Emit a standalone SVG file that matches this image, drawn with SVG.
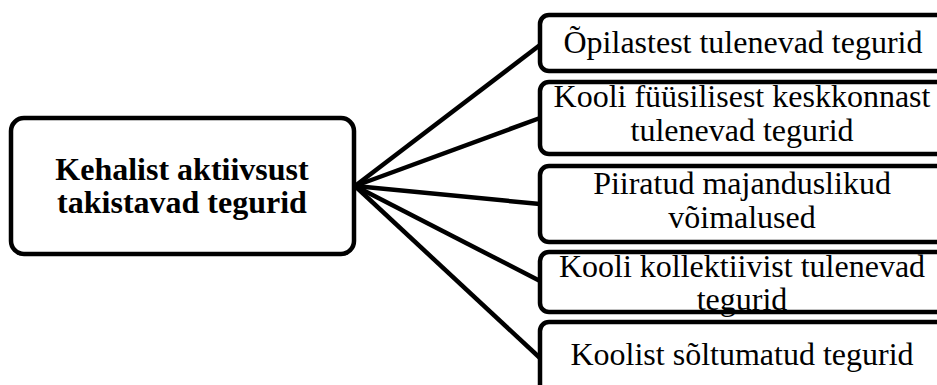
<svg xmlns="http://www.w3.org/2000/svg" width="937" height="385" viewBox="0 0 937 385">
<style>
.box{fill:#fff;stroke:#000;stroke-width:4.5}
.t{font-family:"Liberation Serif","Times New Roman",serif;font-size:32px;fill:#000;text-anchor:middle}
.b{font-weight:bold}
.c{stroke:#000;stroke-width:4.5;fill:none}
</style>
<rect width="937" height="385" fill="#fff"/>
<g id="connectors">
<line class="c" x1="355" y1="186" x2="540" y2="45"/>
<line class="c" x1="355" y1="186" x2="540" y2="118"/>
<line class="c" x1="355" y1="186" x2="540" y2="204"/>
<line class="c" x1="355" y1="186" x2="540" y2="281"/>
<line class="c" x1="355" y1="186" x2="540" y2="358"/>
</g>
<g id="main">
<rect class="box" x="11" y="118" width="343" height="136" rx="13"/>
<text class="t b" x="182" y="180">Kehalist aktiivsust</text>
<text class="t b" x="182" y="213">takistavad tegurid</text>
</g>
<g id="n1">
<rect class="box" x="540" y="15" width="406" height="56" rx="9"/>
<text class="t" x="743" y="53">Õpilastest tulenevad tegurid</text>
</g>
<g id="n2">
<rect class="box" x="540" y="82" width="406" height="72" rx="9"/>
<text class="t" x="742" y="107">Kooli füüsilisest keskkonnast</text>
<text class="t" x="742" y="141">tulenevad tegurid</text>
</g>
<g id="n3">
<rect class="box" x="540" y="166" width="406" height="76" rx="9"/>
<text class="t" x="742" y="194">Piiratud majanduslikud</text>
<text class="t" x="742" y="228">võimalused</text>
</g>
<g id="n4">
<rect class="box" x="540" y="252" width="406" height="60" rx="9"/>
<text class="t" x="742" y="277">Kooli kollektiivist tulenevad</text>
<text class="t" x="742" y="310">tegurid</text>
</g>
<g id="n5">
<rect class="box" x="540" y="322" width="406" height="75" rx="9"/>
<text class="t" x="742" y="365">Koolist sõltumatud tegurid</text>
</g>
</svg>
